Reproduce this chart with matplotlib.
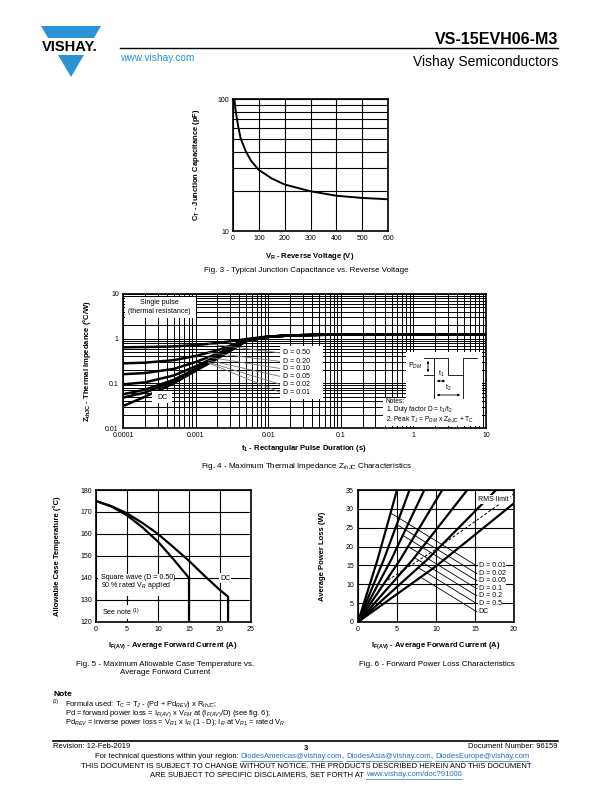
import numpy as np
import matplotlib
matplotlib.use('Agg')
import matplotlib.pyplot as plt
from matplotlib.patches import Polygon, Rectangle
from matplotlib.lines import Line2D
from matplotlib.ticker import FixedLocator, NullFormatter, LogLocator

plt.rcParams['font.family'] = ['Liberation Sans', 'DejaVu Sans']
plt.rcParams['mathtext.fontset'] = 'custom'
plt.rcParams['mathtext.rm'] = 'Liberation Sans'
plt.rcParams['mathtext.it'] = 'Liberation Sans:italic'
plt.rcParams['mathtext.bf'] = 'Liberation Sans:bold'

# ---------------- data ----------------
# Fig. 3 - junction capacitance
vr = [5, 10, 20, 30, 50, 70, 100, 150, 200, 300, 400, 500, 600]
ct = [100, 82, 62, 50, 40, 34, 29, 25, 22.5, 20, 18.5, 17.8, 17.4]

# Fig. 4 - thermal impedance
t_pulse = [1e-4, 2e-4, 5e-4, 1e-3, 2e-3, 5e-3, 1e-2, 2e-2, 5e-2, 1e-1, 1, 10]
z_d050 = [0.64, 0.65, 0.67, 0.72, 0.80, 0.98, 1.12, 1.18, 1.22, 1.23, 1.23, 1.23]
z_d020 = [0.28, 0.29, 0.33, 0.41, 0.55, 0.94, 1.11, 1.18, 1.22, 1.23, 1.23, 1.23]
z_d010 = [0.16, 0.17, 0.21, 0.30, 0.46, 0.92, 1.10, 1.18, 1.22, 1.23, 1.23, 1.23]
z_d005 = [0.095, 0.105, 0.15, 0.24, 0.41, 0.90, 1.10, 1.18, 1.22, 1.23, 1.23, 1.23]
z_d002 = [0.057, 0.072, 0.12, 0.21, 0.38, 0.89, 1.10, 1.18, 1.22, 1.23, 1.23, 1.23]
z_d001 = [0.048, 0.062, 0.11, 0.20, 0.37, 0.88, 1.10, 1.18, 1.22, 1.23, 1.23, 1.23]
z_dc = [0.031, 0.05, 0.10, 0.19, 0.36, 0.88, 1.10, 1.18, 1.22, 1.23, 1.23, 1.23]
d_labels = ['D = 0.50', 'D = 0.20', 'D = 0.10', 'D = 0.05', 'D = 0.02', 'D = 0.01']
d_label_z = [0.48, 0.31, 0.215, 0.143, 0.095, 0.063]

# Fig. 5 - case temperature
sq_i = [0, 2.5, 5, 7.5, 10, 12.5, 15, 15]
sq_t = [175, 172.5, 168.5, 163, 156.5, 148.5, 140, 120]
dc_i = [0, 2.5, 5, 7.5, 10, 12.5, 15, 17.5, 20, 21.3, 21.3]
dc_t = [175, 172.6, 169.4, 165, 160, 154, 147.8, 141, 134.5, 131.5, 120]

# Fig. 6 - forward power loss
pl_labels = ['D = 0.01', 'D = 0.02', 'D = 0.05', 'D = 0.1', 'D = 0.2', 'D = 0.5', 'DC']
pl_i = [[0, 2.5, 5.0], [0, 3.3, 6.6], [0, 4.25, 8.5], [0, 5.4, 10.8],
        [0, 7.0, 14.0], [0, 8.85, 17.7], [0, 10, 20]]
pl_p = [[0, 16.5, 35], [0, 16.5, 35], [0, 16.5, 35], [0, 16.5, 35],
        [0, 16.5, 35], [0, 16.5, 35], [0, 14.8, 31.5]]
pl_label_p = [14.85, 12.8, 10.9, 8.8, 6.9, 4.85, 2.7]
rms_i = [3.3, 10, 20]
rms_p = [10.4, 19.3, 34]

BLUE = '#2a93d5'
LINK = '#1f6fc4'

W, H = 612, 792
fig = plt.figure(figsize=(6.12, 7.92), dpi=100)


def axes_at(l, t, r, b):
    return fig.add_axes([l / W, 1 - b / H, (r - l) / W, (b - t) / H])


def ftext(x, y, s, size=5, **kw):
    kw.setdefault('va', 'center')
    return fig.text(x / W, 1 - y / H, s, fontsize=size, **kw)


def fline(xs, ys, **kw):
    kw.setdefault('color', 'black')
    kw.setdefault('lw', 0.6)
    fig.add_artist(Line2D([x / W for x in xs], [1 - y / H for y in ys],
                          transform=fig.transFigure, **kw))


def fbox(l, t, r, b):
    fig.add_artist(Rectangle((l / W, 1 - b / H), (r - l) / W, (b - t) / H,
                             transform=fig.transFigure, facecolor='white',
                             edgecolor='none', zorder=1.5))


def farrow(x1, y1, x2, y2):
    fig.add_artist(matplotlib.patches.FancyArrowPatch(
        (x1 / W, 1 - y1 / H), (x2 / W, 1 - y2 / H), transform=fig.transFigure,
        arrowstyle='<|-|>', mutation_scale=3, lw=0.6, color='black', zorder=2))


def style(ax):
    for s in ax.spines.values():
        s.set_linewidth(1.2)
    ax.tick_params(which='both', length=0, labelsize=5, pad=3)


GRID = dict(color='black', lw=0.8)

# ---------------- header ----------------
fig.add_artist(Polygon([(41 / W, 1 - 26 / H), (101 / W, 1 - 26 / H), (71 / W, 1 - 77 / H)],
                       closed=True, transform=fig.transFigure, facecolor=BLUE,
                       edgecolor='none'))
fig.add_artist(Rectangle((36 / W, 1 - 55 / H), 70 / W, 17 / H, transform=fig.transFigure,
                         facecolor='white', edgecolor='none', zorder=1.5))
ftext(70, 47, 'VISHAY.', 10.5, ha='center', weight='bold', zorder=3)
ftext(558, 40, 'VS-15EVH06-M3', 11.5, ha='right', weight='bold')
fline([120, 558], [48, 48], lw=1.0)
ftext(120, 58, 'www.vishay.com', 7.3, ha='left', color=BLUE)
ftext(558, 62, 'Vishay Semiconductors', 10, ha='right')

# ---------------- Fig. 3 ----------------
ax3 = axes_at(233, 99, 388, 231)
ax3.plot(vr, ct, color='black', lw=1.4)
ax3.set_yscale('log')
ax3.set_xlim(0, 600)
ax3.set_ylim(10, 100)
ax3.set_xticks(range(0, 601, 100))
ax3.set_yticks([10, 100])
ax3.set_yticklabels(['10', '100'])
ax3.yaxis.set_minor_locator(FixedLocator([20, 30, 40, 50, 60, 70, 80, 90]))
ax3.yaxis.set_minor_formatter(NullFormatter())
ax3.grid(True, which='both', **GRID)
style(ax3)
ftext(310, 256, r'$\mathbf{V_R}$ - Reverse Voltage (V)', 5.5, ha='center', weight='bold')
ftext(197, 165, r'$\mathbf{C_T}$ - Junction Capacitance (pF)', 5.5, ha='center',
      weight='bold', rotation=90)
ftext(306, 271, 'Fig. 3 - Typical Junction Capacitance vs. Reverse Voltage', 5.8, ha='center')

# ---------------- Fig. 4 ----------------
ax4 = axes_at(123, 294, 486, 428)
zcurves = [z_d050, z_d020, z_d010, z_d005, z_d002, z_d001, z_dc]
for z in zcurves:
    ax4.plot(t_pulse, z, color='black', lw=1.8)
ax4.set_xscale('log')
ax4.set_yscale('log')
ax4.set_xlim(1e-4, 10)
ax4.set_ylim(0.01, 10)
ax4.set_xticks([1e-4, 1e-3, 1e-2, 1e-1, 1, 10])
ax4.set_xticklabels(['0.0001', '0.001', '0.01', '0.1', '1', '10'])
ax4.set_yticks([0.01, 0.1, 1, 10])
ax4.set_yticklabels(['0.01', '0.1', '1', '10'])
ax4.xaxis.set_minor_locator(LogLocator(base=10, subs=np.arange(2, 10)))
ax4.yaxis.set_minor_locator(LogLocator(base=10, subs=np.arange(2, 10)))
ax4.xaxis.set_minor_formatter(NullFormatter())
ax4.yaxis.set_minor_formatter(NullFormatter())
ax4.grid(True, which='both', color='black', lw=0.7)
style(ax4)

# leader lines from curves to labels
lt = np.log10(t_pulse)
for z, zl in zip(zcurves[:6], d_label_z):
    ts = 0.0015
    zs = 10 ** np.interp(np.log10(ts), lt, np.log10(z))
    ax4.plot([ts, 0.0146], [zs, zl], color='#777777', lw=0.6, zorder=2.5)

ax4.add_patch(Rectangle((0.0146, 0.044), 0.057 - 0.0146, 0.7 - 0.044,
                        facecolor='white', edgecolor='none', zorder=4))
for lab, zl in zip(d_labels, d_label_z):
    ax4.text(0.0158, zl, lab, fontsize=5, va='center', ha='left', zorder=5)
ax4.add_patch(Rectangle((1.07e-4, 2.93), 1.01e-3 - 1.07e-4, 8.58 - 2.93,
                        facecolor='white', edgecolor='none', zorder=4))
ax4.text(3.2e-4, 6.3, 'Single pulse', fontsize=5, ha='center', va='center', zorder=5)
ax4.text(3.2e-4, 3.98, '(thermal resistance)', fontsize=5, ha='center', va='center', zorder=5)
ax4.add_patch(Rectangle((2.5e-4, 0.036), 4.7e-4 - 2.5e-4, 0.066 - 0.036,
                        facecolor='white', edgecolor='none', zorder=4))
ax4.text(3.45e-4, 0.049, 'DC', fontsize=5, ha='center', va='center', zorder=5)

# pulse diagram and notes
fbox(406, 352, 482, 398)
fbox(383, 398, 482, 426)
fline([434, 434, 448, 448, 463, 463, 477], [375, 358, 358, 375, 375, 358, 358])
fline([424, 433], [358, 358])
fline([424, 433], [375, 375])
farrow(428, 358, 428, 375)
ftext(415, 366, r'P$_{DM}$', 5, ha='center', zorder=3)
fline([434, 434], [375, 398])
fline([463, 463], [375, 398])
farrow(434, 381, 448, 381)
ftext(441, 374, r't$_1$', 5, ha='center', zorder=3)
farrow(434, 395, 463, 395)
ftext(448, 388, r't$_2$', 5, ha='center', zorder=3)
ftext(386, 401.5, 'Notes:', 4.8, ha='left', zorder=3)
ftext(386, 410, r'1. Duty factor D = t$_1$/t$_2$', 4.8, ha='left', zorder=3)
ftext(386, 420, r'2. Peak T$_J$ = P$_{DM}$ x Z$_{thJC}$ + T$_C$', 4.8, ha='left', zorder=3)

ftext(304, 449, r'$\mathbf{t_1}$ - Rectangular Pulse Duration (s)', 5.5, ha='center', weight='bold')
ftext(87, 361, r'$\mathbf{Z_{thJC}}$ - Thermal Impedance (°C/W)', 5.5, ha='center',
      weight='bold', rotation=90)
ftext(306, 467, r'Fig. 4 - Maximum Thermal Impedance Z$_{thJC}$ Characteristics', 5.8, ha='center')

# ---------------- Fig. 5 ----------------
ax5 = axes_at(96, 490, 251, 622)
ax5.plot(sq_i, sq_t, color='black', lw=1.6)
ax5.plot(dc_i, dc_t, color='black', lw=1.6)
ax5.set_xlim(0, 25)
ax5.set_ylim(120, 180)
ax5.set_xticks(range(0, 26, 5))
ax5.set_yticks(range(120, 181, 10))
ax5.grid(True, **GRID)
style(ax5)
ax5.add_patch(Rectangle((0.4, 131.8), 12.2, 10.2, facecolor='white', edgecolor='none', zorder=4))
ax5.text(0.8, 140.2, 'Square wave (D = 0.50)', fontsize=5, ha='left', va='center', zorder=5)
ax5.text(0.8, 136.4, r'90 % rated V$_R$ applied', fontsize=5, ha='left', va='center', zorder=5)
ax5.text(20.8, 140, 'DC', fontsize=5, ha='center', va='center', zorder=5,
         bbox=dict(facecolor='white', edgecolor='none', pad=1))
ax5.text(1.0, 124.6, r'See note $^{(1)}$', fontsize=5, ha='left', va='center', zorder=5,
         bbox=dict(facecolor='white', edgecolor='none', pad=1))
ftext(173, 646, r'$\mathbf{I_{F(AV)}}$ - Average Forward Current (A)', 5.5, ha='center', weight='bold')
ftext(57, 556, 'Allowable Case Temperature (°C)', 5.5, ha='center', weight='bold', rotation=90)
ftext(165, 664, 'Fig. 5 - Maximum Allowable Case Temperature vs.', 5.8, ha='center')
ftext(165, 673, 'Average Forward Current', 5.8, ha='center')

# ---------------- Fig. 6 ----------------
ax6 = axes_at(358, 490, 514, 622)
slope = 1.27
x_end = 15.25
for ii, pp, pl in zip(pl_i, pl_p, pl_label_p):
    ax6.plot(ii, pp, color='black', lw=1.6)
    grid_i = np.linspace(0, ii[-1], 800)
    diff = np.interp(grid_i, ii, pp) - (pl + slope * (x_end - grid_i))
    k = np.argmax(diff > 0)
    xs = grid_i[k]
    ax6.plot([xs, x_end], [pl + slope * (x_end - xs), pl], color='black', lw=0.6, zorder=2.5)
ax6.plot(rms_i, rms_p, color='black', lw=0.7, ls=(0, (3, 2)))
ax6.set_xlim(0, 20)
ax6.set_ylim(0, 35)
ax6.set_xticks(range(0, 21, 5))
ax6.set_yticks(range(0, 36, 5))
ax6.grid(True, **GRID)
style(ax6)
for lab, pl in zip(pl_labels, pl_label_p):
    ax6.text(15.45, pl, lab, fontsize=5, ha='left', va='center', zorder=5,
             bbox=dict(facecolor='white', edgecolor='none', pad=0.6))
ax6.text(15.4, 32.5, 'RMS limit', fontsize=5, ha='left', va='center', zorder=5,
         bbox=dict(facecolor='white', edgecolor='none', pad=1))
ftext(436, 646, r'$\mathbf{I_{F(AV)}}$ - Average Forward Current (A)', 5.5, ha='center', weight='bold')
ftext(322, 556, 'Average Power Loss (W)', 5.5, ha='center', weight='bold', rotation=90)
ftext(437, 664, 'Fig. 6 - Forward Power Loss Characteristics', 5.8, ha='center')

# ---------------- note ----------------
ftext(53, 694, 'Note', 6, ha='left', weight='bold')
ftext(53, 702, '(1)', 3.5, ha='left')
ftext(65, 704, r'Formula used: T$_C$ = T$_J$ - (Pd + Pd$_{REV}$) x R$_{thJC}$;', 5.4, ha='left')
ftext(65, 713.5, r'Pd = forward power loss = I$_{F(AV)}$ x V$_{FM}$ at (I$_{F(AV)}$/D) (see fig. 6);',
      5.4, ha='left')
ftext(65, 723, r'Pd$_{REV}$ = inverse power loss = V$_{R1}$ x I$_R$ (1 - D); I$_R$ at V$_{R1}$ = rated V$_R$',
      5.4, ha='left')

# ---------------- footer ----------------
fline([53, 558], [741, 741], lw=1.2)
ftext(53, 747, 'Revision: 12-Feb-2019', 5.5, ha='left')
ftext(306, 748, '3', 5.5, ha='center', weight='bold')
ftext(558, 747, 'Document Number: 96159', 5.5, ha='right')

renderer = fig.canvas.get_renderer()


def measure(s, size):
    a = fig.text(0, 0, '|' + s + '|', fontsize=size)
    b = fig.text(0, 0, '||', fontsize=size)
    w = a.get_window_extent(renderer).width - b.get_window_extent(renderer).width
    a.remove()
    b.remove()
    return w


def chain(cx, y, parts, size):
    widths = [measure(s, size) for s, _ in parts]
    x = cx - sum(widths) / 2
    for (s, link), w in zip(parts, widths):
        ftext(x, y, s, size, ha='left', color=LINK if link else 'black')
        if link:
            fline([x, x + w], [y + 3.6, y + 3.6], color=LINK, lw=0.5)
        x += w


chain(312, 757, [('For technical questions within your region: ', False),
                 ('DiodesAmericas@vishay.com', True), (', ', False),
                 ('DiodesAsia@vishay.com', True), (', ', False),
                 ('DiodesEurope@vishay.com', True)], 5.5)
ftext(306, 767, 'THIS DOCUMENT IS SUBJECT TO CHANGE WITHOUT NOTICE. THE PRODUCTS DESCRIBED HEREIN AND THIS DOCUMENT',
      5.5, ha='center')
chain(306, 775, [('ARE SUBJECT TO SPECIFIC DISCLAIMERS, SET FORTH AT ', False),
                 ('www.vishay.com/doc?91000', True)], 5.5)

fig.savefig('out.png', dpi=100)
